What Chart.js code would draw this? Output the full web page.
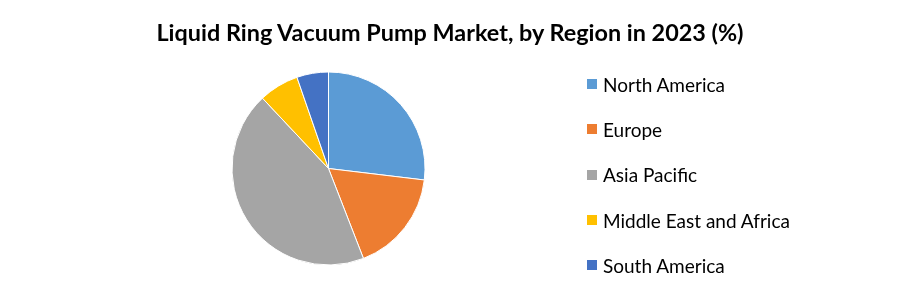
<!DOCTYPE html>
<html>
<head>
<meta charset="utf-8">
<script src="https://cdn.jsdelivr.net/npm/chart.js@4.4.1/dist/chart.umd.min.js"></script>
<style>
  html, body { margin: 0; padding: 0; background: #fff; }
  #wrap { position: relative; width: 900px; height: 289px; }
  #chart { position: absolute; left: 0; top: 0; }
  #title { position: absolute; left: 0; top: 17px; width: 900px; text-align: center;
    font-family: Lato, sans-serif; font-weight: bold; font-size: 23.4px; line-height: 30px; color: #000; }
  #legend { position: absolute; left: 587px; top: 61.5px; margin: 0; padding: 0; list-style: none;
    font-family: Lato, sans-serif; font-size: 19px; color: #000; }
  #legend li { display: flex; align-items: center; height: 45.3px; }
  #legend .box { width: 10px; height: 10px; margin-right: 6px; }
</style>
</head>
<body>
<div id="wrap">
  <canvas id="chart" width="900" height="289"></canvas>
  <div id="title">Liquid Ring Vacuum Pump Market, by Region in 2023 (%)</div>
  <ul id="legend"></ul>
</div>
<script>
// data (share in %)
const regions = ['North America', 'Europe', 'Asia Pacific', 'Middle East and Africa', 'South America'];
const shares = [26.9, 17.2, 43.9, 6.7, 5.3];
const colors = ['#5B9BD5', '#ED7D31', '#A5A5A5', '#FFC000', '#4472C4'];

const ctx = document.getElementById('chart').getContext('2d');
const chart = new Chart(ctx, {
  type: 'pie',
  data: {
    labels: regions,
    datasets: [{ data: shares, backgroundColor: colors, borderColor: '#ffffff', borderWidth: 1 }]
  },
  options: {
    responsive: false,
    animation: false,
    events: [],
    // pie sits left of centre, legend is html on the right
    layout: { padding: { left: 0, right: 243, top: 71.5, bottom: 23.5 } },
    plugins: {
      legend: { display: false },
      tooltip: { enabled: false },
      title: { display: false }
    }
  }
});

// html legend built from the chart's own label items
const legendEl = document.getElementById('legend');
chart.options.plugins.legend.labels.generateLabels(chart).forEach(item => {
  const li = document.createElement('li');
  li.innerHTML = `<span class="box" style="background:${item.fillStyle}"></span><span>${item.text}</span>`;
  legendEl.appendChild(li);
});
</script>
</body>
</html>
